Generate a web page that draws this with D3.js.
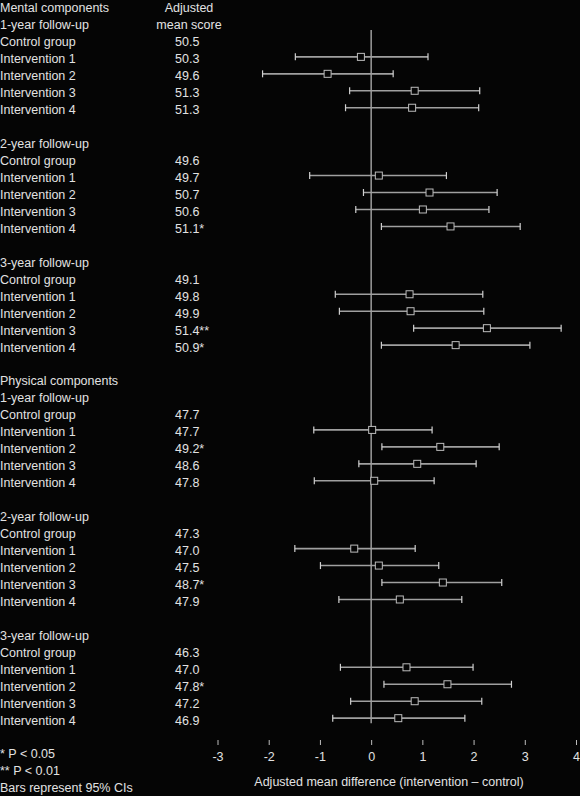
<!DOCTYPE html>
<html>
<head>
<meta charset="utf-8">
<script src="https://cdn.jsdelivr.net/npm/d3@7.9.0/dist/d3.min.js"></script>
<style>
  html, body { margin: 0; padding: 0; background: #050505; }
  svg { display: block; }
  text { font-family: "Liberation Sans", Arial, sans-serif; font-size: 12.5px; fill: #e2e2e2; }
</style>
</head>
<body>
<svg id="chart" width="580" height="796"></svg>
<script>
const sections = ['Mental components', 'Physical components'];
const followUps = ['1-year follow-up', '2-year follow-up', '3-year follow-up'];
const groups = ['Control group', 'Intervention 1', 'Intervention 2', 'Intervention 3', 'Intervention 4'];

// adjusted mean scores, one block of 5 per follow-up (mental 1-3, physical 1-3)
const scores = [
  '50.5', '50.3', '49.6', '51.3', '51.3',
  '49.6', '49.7', '50.7', '50.6', '51.1*',
  '49.1', '49.8', '49.9', '51.4**', '50.9*',
  '47.7', '47.7', '49.2*', '48.6', '47.8',
  '47.3', '47.0', '47.5', '48.7*', '47.9',
  '46.3', '47.0', '47.8*', '47.2', '46.9'
];

// mean difference and 95% CI for interventions 1-4 in each block
const meanDiff = [
  -0.2, -0.85, 0.85, 0.8,
  0.15, 1.14, 1.01, 1.55,
  0.75, 0.77, 2.26, 1.65,
  0.02, 1.35, 0.9, 0.06,
  -0.33, 0.15, 1.4, 0.56,
  0.69, 1.49, 0.85, 0.53
];
const ciLower = [
  -1.48, -2.12, -0.42, -0.5,
  -1.2, -0.15, -0.3, 0.2,
  -0.7, -0.62, 0.83, 0.2,
  -1.12, 0.21, -0.24, -1.11,
  -1.49, -0.99, 0.21, -0.63,
  -0.6, 0.25, -0.4, -0.75
];
const ciUpper = [
  1.11, 0.43, 2.12, 2.1,
  1.47, 2.46, 2.3, 2.91,
  2.18, 2.2, 3.71, 3.1,
  1.19, 2.5, 2.05, 1.23,
  0.86, 1.32, 2.55, 1.77,
  1.99, 2.74, 2.16, 1.83
];

const xTicks = [-3, -2, -1, 0, 1, 2, 3, 4];
const footnotes = ['* P < 0.05', '** P < 0.01', 'Bars represent 95% CIs'];
const scoreHeader = ['Adjusted', 'mean score'];
const xTitle = 'Adjusted mean difference (intervention \u2013 control)';

// build the row layout: label text, score, and CI index
let rows = [];
let block = 0;
sections.forEach((section, s) => {
  followUps.forEach((fu, f) => {
    if (f === 0) rows.push({ label: section });
    rows.push({ label: fu });
    groups.forEach((g, i) => {
      let k = block * 5 + i;
      rows.push({
        label: g,
        score: scores[k],
        ci: i > 0 ? block * 4 + (i - 1) : null
      });
    });
    block++;
    rows.push({ label: '' });
  });
});
footnotes.forEach((t) => rows.push({ label: t }));

const svg = d3.select('#chart');

const y = d3.scalePoint()
  .domain(d3.range(rows.length))
  .range([8, 788]);

const x = d3.scaleLinear()
  .domain([-3, 4])
  .range([217.5, 576]);

// left labels
svg.append('g')
  .selectAll('text')
  .data(rows)
  .join('text')
  .attr('x', 0)
  .attr('y', (d, i) => y(i))
  .attr('dy', '0.35em')
  .text((d) => d.label);

// score column
svg.append('g')
  .selectAll('text')
  .data(rows.map((d, i) => ({ ...d, i })).filter((d) => d.score))
  .join('text')
  .attr('x', 175)
  .attr('y', (d) => y(d.i))
  .attr('dy', '0.35em')
  .text((d) => d.score);

svg.append('g')
  .selectAll('text')
  .data(scoreHeader)
  .join('text')
  .attr('x', 189)
  .attr('y', (d, i) => y(i))
  .attr('dy', '0.35em')
  .attr('text-anchor', 'middle')
  .text((d) => d);

// zero reference line
svg.append('line')
  .attr('x1', x(0))
  .attr('x2', x(0))
  .attr('y1', 30)
  .attr('y2', y(42) + 3)
  .attr('stroke', '#b4b4b4')
  .attr('stroke-width', 1.3);

// confidence intervals
const ciRows = rows.map((d, i) => ({ ...d, i })).filter((d) => d.ci !== null && d.ci !== undefined);

const ci = svg.append('g')
  .selectAll('g')
  .data(ciRows)
  .join('g')
  .attr('transform', (d) => `translate(0,${y(d.i) - 2})`);

ci.append('line')
  .attr('x1', (d) => x(ciLower[d.ci]))
  .attr('x2', (d) => x(ciUpper[d.ci]))
  .attr('stroke', '#a0a0a0')
  .attr('stroke-width', 1.6);

ci.append('line')
  .attr('x1', (d) => x(ciLower[d.ci]))
  .attr('x2', (d) => x(ciLower[d.ci]))
  .attr('y1', -3.5)
  .attr('y2', 3.5)
  .attr('stroke', '#d0d0d0')
  .attr('stroke-width', 1.2);

ci.append('line')
  .attr('x1', (d) => x(ciUpper[d.ci]))
  .attr('x2', (d) => x(ciUpper[d.ci]))
  .attr('y1', -3.5)
  .attr('y2', 3.5)
  .attr('stroke', '#d0d0d0')
  .attr('stroke-width', 1.2);

ci.append('rect')
  .attr('x', (d) => x(meanDiff[d.ci]) - 3.5)
  .attr('y', -3.5)
  .attr('width', 7)
  .attr('height', 7)
  .attr('fill', '#050505')
  .attr('stroke', '#bdbdbd')
  .attr('stroke-width', 1);

// x axis
const axis = svg.append('g')
  .attr('transform', 'translate(0,740)')
  .call(d3.axisBottom(x).tickValues(xTicks).tickSize(5).tickPadding(7).tickFormat((d) => String(d)));

axis.select('.domain').remove();
axis.selectAll('.tick line').attr('stroke', '#bdbdbd');
axis.selectAll('.tick text')
  .attr('fill', '#e2e2e2')
  .style('font-size', '12.5px')
  .style('font-family', '"Liberation Sans", Arial, sans-serif');

svg.append('text')
  .attr('x', 389)
  .attr('y', 782)
  .attr('dy', '0.35em')
  .attr('text-anchor', 'middle')
  .text(xTitle);
</script>
</body>
</html>
